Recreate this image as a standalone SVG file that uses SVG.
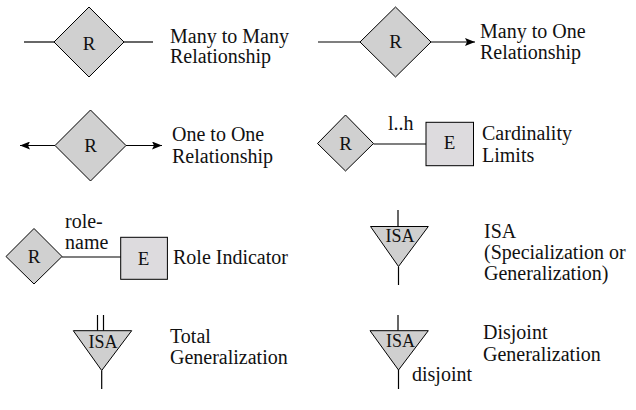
<svg xmlns="http://www.w3.org/2000/svg" width="636" height="410" viewBox="0 0 636 410">
<style>
text{font-family:'Liberation Serif','DejaVu Serif',serif;font-size:20px;fill:#111}
.c{text-anchor:middle;font-size:19px}
.s{font-size:18px}
.d{fill:#d0d0d0;stroke:#000;stroke-width:1}
.b{fill:#dddbde;stroke:#000;stroke-width:1}
.t{fill:#cfcfcf;stroke:#000;stroke-width:1}
line{stroke:#000;stroke-width:1.2}
</style>
<defs>
<marker id="ah" viewBox="0 0 10 8" refX="10" refY="4" markerWidth="10" markerHeight="8" markerUnits="userSpaceOnUse" orient="auto">
<path d="M0,0 L10,4 L0,8 L2,4 Z" fill="#000"/>
</marker>
</defs>
<g id="connectors">
<line x1="24" y1="42" x2="54" y2="42"/>
<line x1="124" y1="42" x2="153" y2="42"/>
<line x1="318" y1="42" x2="360" y2="42"/>
<line x1="431" y1="42" x2="475" y2="42" marker-end="url(#ah)"/>
<line x1="55" y1="145.5" x2="20" y2="145.5" marker-end="url(#ah)"/>
<line x1="126" y1="145.5" x2="162" y2="145.5" marker-end="url(#ah)"/>
<line x1="373.5" y1="144" x2="426" y2="144"/>
<line x1="62" y1="257" x2="121" y2="257"/>
<line x1="97.5" y1="315" x2="97.5" y2="330.7"/>
<line x1="103.5" y1="315" x2="103.5" y2="330.7"/>
<line x1="101.7" y1="370.5" x2="101.7" y2="389"/>
<line x1="398" y1="210" x2="398" y2="226.5"/>
<line x1="398.5" y1="266.5" x2="398.5" y2="285"/>
<line x1="398" y1="315" x2="398" y2="330.7"/>
<line x1="398.5" y1="370" x2="398.5" y2="389"/>
</g>
<g id="many-many">
<polygon class="d" points="89,7 124,42 89,77 54,42"/>
<text class="c" x="89" y="49.5">R</text>
<text x="170" y="43">Many to Many</text>
<text x="170" y="63">Relationship</text>
</g>
<g id="many-one">
<polygon class="d" points="395.5,7 431,42 395.5,77 360,42"/>
<text class="c" x="395.5" y="48">R</text>
<text x="480" y="38">Many to One</text>
<text x="480" y="59">Relationship</text>
</g>
<g id="one-one">
<polygon class="d" points="90.5,110 126,145.5 90.5,181 55,145.5"/>
<text class="c" x="90.5" y="151.5">R</text>
<text x="172" y="141">One to One</text>
<text x="172" y="163">Relationship</text>
</g>
<g id="cardinality">
<polygon class="d" points="345.5,115 373.5,143.5 345.5,171 317.5,143.5"/>
<text class="c" x="345.5" y="150">R</text>
<rect class="b" x="426" y="122.3" width="47.5" height="43.4"/>
<text class="c" x="449.5" y="149">E</text>
<text x="388" y="130">l..h</text>
<text x="482" y="140">Cardinality</text>
<text x="482" y="162">Limits</text>
</g>
<g id="role">
<polygon class="d" points="34,228.5 62,256.5 34,284 6,256.5"/>
<text class="c" x="34" y="262.5">R</text>
<rect class="b" x="120.7" y="237.3" width="46.7" height="42"/>
<text class="c" x="143.5" y="264.5">E</text>
<text x="65" y="228">role-</text>
<text x="65" y="249">name</text>
<text x="173" y="264">Role Indicator</text>
</g>
<g id="isa">
<polygon class="t" points="370.5,226.5 428.3,226.5 398.5,266.5"/>
<text class="c s" x="400" y="242">ISA</text>
<text x="484" y="238">ISA</text>
<text x="484" y="259">(Specialization or</text>
<text x="484" y="280">Generalization)</text>
</g>
<g id="total">
<polygon class="t" points="73.3,330.7 131.7,330.7 101.7,370.5"/>
<text class="c s" x="103" y="347.5">ISA</text>
<text x="170" y="343">Total</text>
<text x="170" y="364">Generalization</text>
</g>
<g id="disjoint">
<polygon class="t" points="370,330.7 428.3,330.7 398.5,370"/>
<text class="c s" x="400.5" y="346.5">ISA</text>
<text x="412" y="381">disjoint</text>
<text x="483" y="339">Disjoint</text>
<text x="483" y="361">Generalization</text>
</g>
</svg>
